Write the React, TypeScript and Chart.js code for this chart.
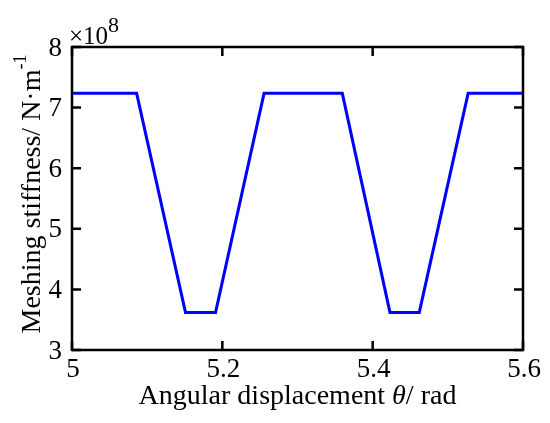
import React, { useEffect, useRef } from "react";
import { Chart, registerables } from "chart.js";

Chart.register(...registerables);

// Data (angular displacement in rad, stiffness in 1e8 N/m)
const thetaValues = [5.0, 5.086, 5.151, 5.191, 5.2555, 5.3596, 5.423, 5.462, 5.527, 5.6];
const stiffnessValues = [7.235, 7.235, 3.62, 3.62, 7.235, 7.235, 3.62, 3.62, 7.235, 7.235];
const xTickValues = [5, 5.2, 5.4, 5.6];
const xTickLabels = ["5", "5.2", "5.4", "5.6"];
const yTickValues = [3, 4, 5, 6, 7, 8];
const yTickLabels = ["3", "4", "5", "6", "7", "8"];
const xTitleParts = ["Angular displacement ", "θ", "/ rad"];
const yTitleMain = "Meshing stiffness/ N·m";
const yTitleSup = "-1";
const exponentBase = "×10";
const exponentSup = "8";

const FAMILY = "'Liberation Serif', 'Times New Roman', serif";

type Seg = { text: string; font: string; dy?: number };

function drawSegs(ctx: CanvasRenderingContext2D, segs: Seg[], align: "left" | "center" | "right") {
  ctx.textAlign = "left";
  ctx.textBaseline = "alphabetic";
  let total = 0;
  const widths = segs.map((s) => {
    ctx.font = s.font;
    const w = ctx.measureText(s.text).width;
    total += w;
    return w;
  });
  let cx = align === "left" ? 0 : align === "center" ? -total / 2 : -total;
  segs.forEach((s, i) => {
    ctx.font = s.font;
    ctx.fillText(s.text, cx, s.dy || 0);
    cx += widths[i];
  });
}

const framePlugin = {
  id: "matlabFrame",
  afterDatasetsDraw(chart: any) {
    const { ctx, chartArea: a, scales } = chart;
    const xs = scales.x;
    const ys = scales.y;
    ctx.save();
    ctx.strokeStyle = "#000";
    ctx.lineWidth = 2.5;
    ctx.lineCap = "butt";
    ctx.strokeRect(a.left, a.top, a.right - a.left, a.bottom - a.top);
    const tl = 9;
    ctx.beginPath();
    xTickValues.forEach((v) => {
      const px = xs.getPixelForValue(v);
      ctx.moveTo(px, a.bottom);
      ctx.lineTo(px, a.bottom - tl);
      ctx.moveTo(px, a.top);
      ctx.lineTo(px, a.top + tl);
    });
    yTickValues.forEach((v) => {
      const py = ys.getPixelForValue(v);
      ctx.moveTo(a.left, py);
      ctx.lineTo(a.left + tl, py);
      ctx.moveTo(a.right, py);
      ctx.lineTo(a.right - tl, py);
    });
    ctx.stroke();

    ctx.fillStyle = "#000";
    const tickFont = `27px ${FAMILY}`;
    xTickValues.forEach((v, i) => {
      const px = xs.getPixelForValue(v);
      ctx.save();
      ctx.translate(px + 1, 377);
      drawSegs(ctx, [{ text: xTickLabels[i], font: tickFont }], "center");
      ctx.restore();
    });
    yTickValues.forEach((v, i) => {
      const py = ys.getPixelForValue(v);
      ctx.save();
      ctx.translate(a.left - 10, py + 8.5);
      drawSegs(ctx, [{ text: yTickLabels[i], font: tickFont }], "right");
      ctx.restore();
    });
    const titleFont = `28px ${FAMILY}`;
    ctx.save();
    ctx.translate((a.left + a.right) / 2, 404);
    drawSegs(
      ctx,
      [
        { text: xTitleParts[0], font: titleFont },
        { text: xTitleParts[1], font: `italic 28px ${FAMILY}` },
        { text: xTitleParts[2], font: titleFont },
      ],
      "center"
    );
    ctx.restore();
    ctx.save();
    ctx.translate(40, 194);
    ctx.rotate(-Math.PI / 2);
    drawSegs(
      ctx,
      [
        { text: yTitleMain, font: titleFont },
        { text: yTitleSup, font: `18px ${FAMILY}`, dy: -14 },
      ],
      "center"
    );
    ctx.restore();
    ctx.save();
    ctx.translate(a.left - 3, 44);
    drawSegs(
      ctx,
      [
        { text: exponentBase, font: `25px ${FAMILY}` },
        { text: exponentSup, font: `22px ${FAMILY}`, dy: -12 },
      ],
      "left"
    );
    ctx.restore();
    ctx.restore();
  },
};

export default function App() {
  const ref = useRef<HTMLCanvasElement | null>(null);
  useEffect(() => {
    if (!ref.current) return;
    const chart = new Chart(ref.current, {
      type: "scatter",
      data: {
        datasets: [
          {
            data: thetaValues.map((t, i) => ({ x: t, y: stiffnessValues[i] })),
            showLine: true,
            borderColor: "#0000ff",
            backgroundColor: "#0000ff",
            borderWidth: 3,
            pointRadius: 0,
            tension: 0,
          },
        ],
      },
      options: {
        animation: false,
        responsive: false,
        devicePixelRatio: 1,
        layout: { padding: { left: 72, right: 27, top: 47, bottom: 73 } },
        plugins: { legend: { display: false }, tooltip: { enabled: false } },
        scales: {
          x: { type: "linear", display: false, min: 5, max: 5.6 },
          y: { type: "linear", display: false, min: 3, max: 8 },
        },
      },
      plugins: [framePlugin],
    });
    return () => chart.destroy();
  }, []);
  return (
    <div style={{ position: "absolute", left: 0, top: 0, width: 550, height: 423, background: "#fff" }}>
      <canvas ref={ref} width={550} height={423} />
    </div>
  );
}
